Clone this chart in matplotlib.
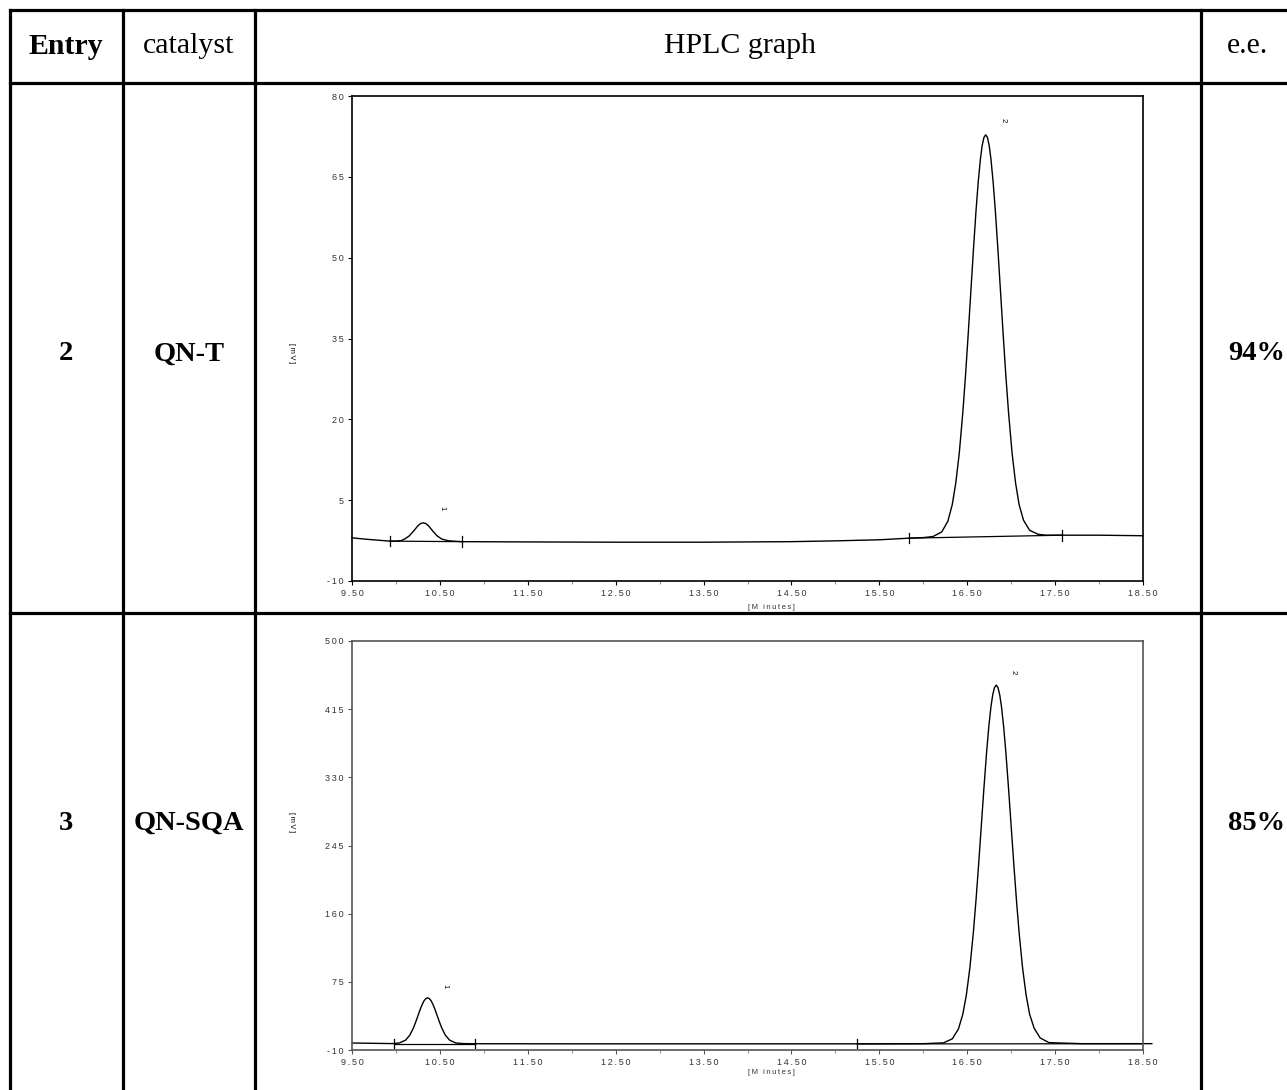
import matplotlib.pyplot as plt

# ---- table text ----
headers = ['Entry', 'catalyst', 'HPLC graph', 'e.e.']
entries = ['2', '3']
catalysts = ['QN-T', 'QN-SQA']
ee_values = ['94%', '85%']

# ---- chromatogram 1 (QN-T) ----
t1 = [9.50, 9.70, 9.93, 10.00, 10.06, 10.10, 10.15, 10.20, 10.25, 10.28, 10.31, 10.34,
      10.37, 10.42, 10.47, 10.52, 10.60, 10.75, 11.50, 12.50, 13.50, 14.50, 15.00,
      15.50, 15.84, 16.00,
      16.11, 16.21, 16.28, 16.33, 16.37, 16.41, 16.45, 16.48, 16.51, 16.54, 16.57,
      16.60, 16.625, 16.65, 16.67, 16.69, 16.71, 16.73, 16.75, 16.77, 16.795, 16.82,
      16.85, 16.88, 16.91, 16.94, 16.97, 17.01, 17.05, 17.09, 17.14, 17.21, 17.31,
      17.40, 17.58, 18.00, 18.50]
s1 = [-2.0, -2.3, -2.6, -2.6, -2.5, -2.2, -1.65, -0.75, 0.25, 0.65, 0.8, 0.65,
      0.25, -0.75, -1.65, -2.2, -2.55, -2.7, -2.75, -2.8, -2.8, -2.7, -2.55,
      -2.35, -2.05, -1.95,
      -1.75, -0.9, 1.1, 4.2, 8.2, 13.8, 21.3, 28.0, 35.5, 43.4, 51.3,
      58.7, 64.0, 68.3, 70.8, 72.3, 72.8, 72.3, 70.8, 68.3, 64.0, 58.7,
      51.3, 43.4, 35.5, 28.0, 21.3, 13.8, 8.2, 4.2, 1.3, -0.6, -1.35,
      -1.5, -1.5, -1.5, -1.6]
marks1 = [(9.93, -2.6), (10.75, -2.7), (15.84, -2.05), (17.58, -1.5)]
peaks1 = [('1', 10.52, 3.6), ('2', 16.91, 75.5)]
yticks1 = [80, 65, 50, 35, 20, 5, -10]

# ---- chromatogram 2 (QN-SQA) ----
t2 = [9.50, 9.70, 9.96, 10.04, 10.11, 10.16, 10.20, 10.23, 10.26, 10.28, 10.30, 10.32,
      10.34, 10.36, 10.38, 10.40, 10.42, 10.44, 10.46, 10.49, 10.52, 10.56, 10.61,
      10.68, 10.76, 10.90, 12.00, 13.00, 14.00, 15.25, 16.00,
      16.23, 16.33, 16.40, 16.45, 16.49, 16.53, 16.57, 16.60, 16.63, 16.66, 16.69,
      16.72, 16.745, 16.77, 16.79, 16.81, 16.83, 16.85, 16.87, 16.89, 16.915, 16.94,
      16.97, 17.00, 17.03, 17.06, 17.09, 17.13, 17.17, 17.21, 17.26, 17.33, 17.43,
      17.80, 18.20, 18.60]
s2 = [-1.3, -1.6, -2.0, -1.2, 2.3, 8.9, 17.8, 26.4, 35.7, 41.8, 47.1, 51.4,
      54.1, 55.0, 54.1, 51.4, 47.1, 41.8, 35.7, 26.4, 17.8, 8.9, 2.3,
      -1.2, -2.0, -2.2, -2.3, -2.3, -2.3, -2.3, -2.1,
      -1.1, 3.9, 16.2, 34.7, 58.5, 92.2, 136.8, 177.0, 221.7, 269.1, 316.4,
      360.6, 392.5, 418.0, 432.8, 441.9, 445.0, 441.9, 432.8, 418.0, 392.5, 360.6,
      316.4, 269.1, 221.7, 177.0, 136.8, 92.2, 58.5, 34.7, 17.5, 5.0, -0.8,
      -2.1, -2.1, -2.1]
marks2 = [(9.98, -2.2), (10.90, -2.2), (15.25, -2.4), (18.50, -2.2)]
peaks2 = [('1', 10.56, 70), ('2', 17.02, 461)]
yticks2 = [500, 415, 330, 245, 160, 75, -10]

xticks = [9.5, 10.5, 11.5, 12.5, 13.5, 14.5, 15.5, 16.5, 17.5, 18.5]
xminor = [10, 11, 12, 13, 14, 15, 16, 17, 18]


def spaced(s):
    return '\u2009'.join(s)


fig = plt.figure(figsize=(12.87, 10.90), dpi=100)

# table grid drawn in pixel coordinates
bg = fig.add_axes([0, 0, 1, 1], zorder=0)
bg.set_xlim(0, 1287)
bg.set_ylim(1090, 0)
bg.axis('off')
lw = 2.3
bg.plot([10, 1287], [10, 10], color='black', lw=lw)
bg.plot([10, 1287], [83, 83], color='black', lw=lw)
bg.plot([10, 1287], [613, 613], color='black', lw=lw)
for x in [10, 123, 255, 1201]:
    bg.plot([x, x], [10, 1090], color='black', lw=lw)

serif = 'Liberation Serif'
fs = 21.5
fs_row = 20.5
hx = [66, 189, 740, 1247]
for x, h, bold in zip(hx, headers, [True, False, False, False]):
    bg.text(x, 46, h, ha='center', va='center', family=serif, fontsize=fs,
            fontweight='bold' if bold else 'normal')
for y, e, c, ee in zip([354, 823], entries, catalysts, ee_values):
    bg.text(66, y, e, ha='center', va='center', family=serif, fontsize=fs_row, fontweight='bold')
    bg.text(189, y, c, ha='center', va='center', family=serif, fontsize=fs_row, fontweight='bold')
    bg.text(1285, y, ee, ha='right', va='center', family=serif, fontsize=fs_row, fontweight='bold')


def chromatogram(rect, t, s, marks, peaks, yticks, ylim, frame, ylab_y):
    ax = fig.add_axes(rect, zorder=1)
    ax.plot(t, s, color='black', lw=1.0, clip_on=False)
    for a, b in zip(marks[0::2], marks[1::2]):
        ax.plot([a[0], b[0]], [a[1], b[1]], color='black', lw=0.9)
    span = ylim[1] - ylim[0]
    for m in marks:
        ax.plot([m[0], m[0]], [m[1] - span * 0.011, m[1] + span * 0.011], color='black', lw=0.9)
    for lab, x, y in peaks:
        ax.text(x, y, lab, rotation=-90, ha='center', va='center', fontsize=5.5,
                family='Liberation Sans')
    ax.set_xlim(9.5, 18.5)
    ax.set_ylim(*ylim)
    ax.set_xticks(xticks)
    ax.set_xticklabels([spaced('%.2f' % v) for v in xticks], fontsize=6.5,
                       family='Liberation Sans', color='#333333')
    ax.set_xticks(xminor, minor=True)
    ax.set_yticks(yticks)
    ax.set_yticklabels([spaced(str(v)) for v in yticks], fontsize=6.5,
                       family='Liberation Sans', color='#333333')
    ax.tick_params(axis='both', which='major', direction='out', length=3, width=0.8,
                   pad=3, color=frame)
    ax.tick_params(axis='x', which='minor', direction='out', length=2, width=0.6, color='#777777')
    for sp in ax.spines.values():
        sp.set_color(frame)
        sp.set_linewidth(1.2)
    ax.text(0.53, -0.055, spaced('[M inutes]'), transform=ax.transAxes, ha='center',
            va='center', fontsize=5.5, family='Liberation Sans', color='#333333')
    ax.text(-0.076, ylab_y, spaced('[mV]'), transform=ax.transAxes, rotation=-90,
            ha='center', va='center', fontsize=5.5, family='Liberation Sans')
    return ax


chromatogram([352 / 1287, 1 - 581 / 1090, 791 / 1287, 485 / 1090], t1, s1, marks1, peaks1,
             yticks1, (-10, 80), 'black', 0.47)
chromatogram([352 / 1287, 1 - 1050 / 1090, 791 / 1287, 409 / 1090], t2, s2, marks2, peaks2,
             yticks2, (-10, 500), '#555555', 0.557)

fig.savefig('out.png', dpi=100)
